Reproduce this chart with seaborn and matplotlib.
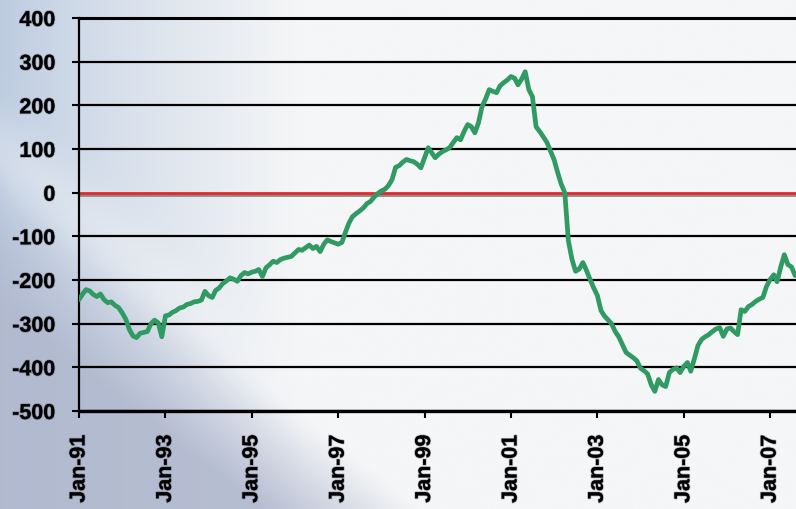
import numpy as np
import pandas as pd
import matplotlib
matplotlib.use("Agg")
import matplotlib.pyplot as plt
import matplotlib.dates as mdates
import matplotlib.patheffects as pe
import seaborn as sns

# ---- data (monthly, Jan-1991 .. Aug-2007) ----
start_month = "1991-01-01"
values = [
    -245, -232, -222, -225, -233, -238, -232, -245, -252, -250, -258, -263,
    -275, -290, -313, -328, -332, -322, -320, -318, -300, -292, -298, -330,
    -282, -280, -274, -270, -264, -262, -256, -254, -250, -249, -246, -226,
    -236, -240, -224, -218, -208, -202, -195, -198, -203, -190, -183, -186,
    -182, -180, -176, -192, -172, -165, -157, -160, -153, -150, -148, -146,
    -138, -130, -132, -126, -120, -128, -123, -135, -118, -108, -112, -115,
    -118, -114, -92, -70, -55, -48, -42, -35, -25, -20, -10, -2,
    4, 8, 16, 30, 58, 62, 70, 76, 73, 71, 65, 57,
    80, 103, 92, 80, 88, 94, 98, 103, 115, 126, 121, 140,
    156, 151, 137, 160, 197, 215, 236, 232, 229, 245, 252, 258,
    266, 262, 247, 260, 277, 236, 220, 151, 140, 128, 115, 95,
    75, 45, 20, 0, -110, -153, -180, -175, -160, -178, -199, -218,
    -235, -270, -282, -291, -300, -318, -330, -348, -366, -372, -378, -385,
    -402, -408, -415, -440, -455, -428, -440, -444, -412, -405, -401, -412,
    -398, -389, -409, -380, -350, -336, -330, -325, -318, -312, -309, -329,
    -312, -310, -318, -325, -268, -272, -261, -256, -249, -244, -240, -215,
    -199, -188, -204, -170, -142, -165, -170, -190,
]
dates = pd.date_range(start_month, periods=len(values), freq="MS")
y_ticks = [400, 300, 200, 100, 0, -100, -200, -300, -400, -500]
x_tick_years = [1991, 1993, 1995, 1997, 1999, 2001, 2003, 2005, 2007]

df = pd.DataFrame({"date": dates, "value": values})

# ---- figure ----
sns.set_theme(style="white")
plt.rcParams["font.family"] = ["Liberation Sans", "DejaVu Sans"]
plt.rcParams["axes.unicode_minus"] = False

W, H = 796, 509
fig = plt.figure(figsize=(W / 100, H / 100), dpi=100)

# background gradient (styling only)
bg_ax = fig.add_axes([0, 0, 1, 1], zorder=0)
u = np.linspace(0, 1, 400)[None, :]
v = np.linspace(0, 1, 260)[:, None]
blue_top = np.array([188, 203, 224]) / 255
white = np.array([245, 246, 247]) / 255
blue_bot = np.array([176, 184, 206]) / 255
t = np.clip(u / 0.38, 0, 1) ** 0.8
img = blue_top[None, None, :] * (1 - t[..., None]) + white[None, None, :] * t[..., None]
img = np.broadcast_to(img, (260, 400, 3)).copy()
d = v - (0.47 + 1.23 * (u - 0.1))
w = np.clip(d / 0.25, 0, 1)[..., None] * 0.9
img = img * (1 - w) + blue_bot[None, None, :] * w
band = np.exp(-((d + 0.05) / 0.08) ** 2)[..., None] * 0.35
img = img * (1 - band) + white[None, None, :] * band
bg_ax.imshow(img, aspect="auto", extent=[0, 1, 0, 1], origin="upper")
bg_ax.set_axis_off()

ax = fig.add_axes([79 / W, (H - 411) / H, (W - 79) / W, 393 / H], zorder=1)
ax.patch.set_alpha(0)

for yv in y_ticks:
    if yv == 0:
        continue
    ax.axhline(yv, color="black", lw=1.6, zorder=1)
ax.axhline(0, color="#e8262a", lw=2.0, zorder=2,
           path_effects=[pe.SimpleLineShadow(offset=(0, -1.5), shadow_color="gray", alpha=0.9),
                         pe.Normal()])

sns.lineplot(data=df, x="date", y="value", ax=ax, color="#2f9a62", lw=3.4, zorder=3)

ax.set_ylim(-500, 400)
ax.set_xlim(pd.Timestamp("1991-01-01"), pd.Timestamp("2007-08-08"))
ax.set_yticks(y_ticks)
ax.set_xticks([pd.Timestamp(f"{y}-01-01") for y in x_tick_years])
ax.xaxis.set_major_formatter(mdates.DateFormatter("%b-%y"))
ax.set_xlabel("")
ax.set_ylabel("")

ax.spines["right"].set_visible(False)
ax.spines["top"].set_color("black")
ax.spines["top"].set_linewidth(2.2)
ax.spines["bottom"].set_color("black")
ax.spines["bottom"].set_linewidth(2.4)
ax.spines["left"].set_color("black")
ax.spines["left"].set_linewidth(1.6)

ax.tick_params(axis="both", direction="out", length=5, width=1.5, color="black",
               labelsize=15.5, labelcolor="black", pad=12,
               left=True, bottom=True)
shadow = [pe.withStroke(linewidth=1.2, foreground=(0.35, 0.35, 0.4, 0.45))]
for lab in ax.get_xticklabels():
    lab.set_rotation(90)
    lab.set_fontweight("bold")
    lab.set_path_effects(shadow)
for lab in ax.get_yticklabels():
    lab.set_fontweight("bold")
    lab.set_path_effects(shadow)

fig.savefig("out.png", dpi=100)
